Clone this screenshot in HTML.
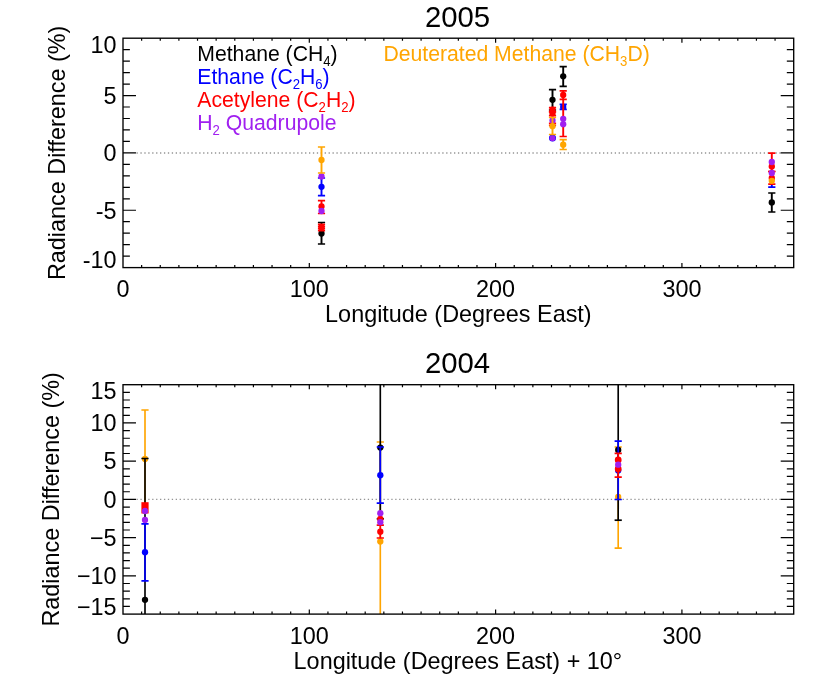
<!DOCTYPE html>
<html><head><meta charset="utf-8"><title>Radiance Difference</title>
<style>html,body{margin:0;padding:0;background:#fff}svg{display:block;will-change:transform;opacity:0.999}text{font-family:"Liberation Sans",sans-serif;}</style></head><body>
<svg width="830" height="692" viewBox="0 0 830 692">
<rect width="830" height="692" fill="#fff"/>
<line x1="136.5" y1="152.90" x2="780.7" y2="152.90" stroke="#949494" stroke-width="1.5" stroke-dasharray="1.3 2.62"/>
<clipPath id="c1"><rect x="123.0" y="38.2" width="670.70" height="229.40"/></clipPath>
<g clip-path="url(#c1)">
<path d="M321.5 222.5V244" stroke="#000" stroke-width="1.9" fill="none"/><path d="M317.90 222.5h7.2M317.90 244h7.2" stroke="#000" stroke-width="1.7" fill="none"/>
<circle cx="321.5" cy="233.5" r="3.15" fill="#000"/>
<path d="M321.5 178V195.6" stroke="#0000ff" stroke-width="1.9" fill="none"/><path d="M317.90 178h7.2M317.90 195.6h7.2" stroke="#0000ff" stroke-width="1.7" fill="none"/>
<circle cx="321.5" cy="186.8" r="3.15" fill="#0000ff"/>
<path d="M321.5 200.7V213.5" stroke="#ff0000" stroke-width="1.9" fill="none"/><path d="M317.90 200.7h7.2M317.90 213.5h7.2" stroke="#ff0000" stroke-width="1.7" fill="none"/>
<circle cx="321.5" cy="206.5" r="3.15" fill="#ff0000"/>
<path d="M321.5 224.3V230.6" stroke="#ff0000" stroke-width="1.9" fill="none"/><path d="M317.90 224.3h7.2M317.90 230.6h7.2" stroke="#ff0000" stroke-width="1.7" fill="none"/>
<path d="M321.5 226.4V228.6" stroke="#ff0000" stroke-width="1.9" fill="none"/><path d="M317.90 226.4h7.2M317.90 228.6h7.2" stroke="#ff0000" stroke-width="1.7" fill="none"/>
<circle cx="321.5" cy="227.5" r="3.15" fill="#ff0000"/>
<circle cx="321.5" cy="211" r="3.15" fill="#a020f0"/>
<circle cx="321.5" cy="176.5" r="3.15" fill="#a020f0"/>
<path d="M321.5 147V173" stroke="#ffa500" stroke-width="1.9" fill="none"/><path d="M317.90 147h7.2M317.90 173h7.2" stroke="#ffa500" stroke-width="1.7" fill="none"/>
<circle cx="321.5" cy="160" r="3.15" fill="#ffa500"/>
<path d="M552.5 89.7V110" stroke="#000" stroke-width="1.9" fill="none"/><path d="M548.90 89.7h7.2M548.90 110h7.2" stroke="#000" stroke-width="1.7" fill="none"/>
<circle cx="552.5" cy="99.8" r="3.15" fill="#000"/>
<circle cx="552.5" cy="138" r="3.5" fill="#0000ff"/>
<path d="M552.5 107.7V111.6" stroke="#ff0000" stroke-width="1.9" fill="none"/><path d="M548.90 107.7h7.2M548.90 111.6h7.2" stroke="#ff0000" stroke-width="1.7" fill="none"/>
<circle cx="552.5" cy="109.6" r="3.15" fill="#ff0000"/>
<path d="M552.5 112V115.6" stroke="#ff0000" stroke-width="1.9" fill="none"/><path d="M548.90 112h7.2M548.90 115.6h7.2" stroke="#ff0000" stroke-width="1.7" fill="none"/>
<circle cx="552.5" cy="113.6" r="3.15" fill="#ff0000"/>
<path d="M552.5 123.4V125.5" stroke="#ff0000" stroke-width="1.9" fill="none"/><path d="M548.90 123.4h7.2M548.90 125.5h7.2" stroke="#ff0000" stroke-width="1.7" fill="none"/>
<circle cx="552.5" cy="120.5" r="3.15" fill="#a020f0"/>
<circle cx="552.5" cy="138.2" r="3.0" fill="#a020f0"/>
<path d="M552.5 117.5V134.5" stroke="#ffa500" stroke-width="1.9" fill="none"/><path d="M548.90 117.5h7.2M548.90 134.5h7.2" stroke="#ffa500" stroke-width="1.7" fill="none"/>
<circle cx="552.5" cy="126.2" r="3.15" fill="#ffa500"/>
<path d="M563.2 66.7V86.3" stroke="#000" stroke-width="1.9" fill="none"/><path d="M559.60 66.7h7.2M559.60 86.3h7.2" stroke="#000" stroke-width="1.7" fill="none"/>
<circle cx="563.2" cy="76.3" r="3.15" fill="#000"/>
<path d="M563.2 104.4V109.4" stroke="#0000ff" stroke-width="1.9" fill="none"/><path d="M559.60 104.4h7.2M559.60 109.4h7.2" stroke="#0000ff" stroke-width="1.7" fill="none"/>
<circle cx="563.2" cy="106.9" r="3.15" fill="#0000ff"/>
<path d="M563.2 90.8V99.4" stroke="#ff0000" stroke-width="1.9" fill="none"/><path d="M559.60 90.8h7.2M559.60 99.4h7.2" stroke="#ff0000" stroke-width="1.7" fill="none"/>
<circle cx="563.2" cy="95" r="3.15" fill="#ff0000"/>
<path d="M563.2 99V136.5" stroke="#ff0000" stroke-width="1.9" fill="none"/><path d="M559.60 136.5h7.2" stroke="#ff0000" stroke-width="1.7" fill="none"/>
<circle cx="563.2" cy="118.8" r="3.15" fill="#a020f0"/>
<circle cx="563.2" cy="124.2" r="3.15" fill="#a020f0"/>
<path d="M563.2 139.6V149.5" stroke="#ffa500" stroke-width="1.9" fill="none"/><path d="M559.60 139.6h7.2M559.60 149.5h7.2" stroke="#ffa500" stroke-width="1.7" fill="none"/>
<circle cx="563.2" cy="144.7" r="3.15" fill="#ffa500"/>
<path d="M771.8 193V212" stroke="#000" stroke-width="1.9" fill="none"/><path d="M768.20 193h7.2M768.20 212h7.2" stroke="#000" stroke-width="1.7" fill="none"/>
<circle cx="771.8" cy="202.4" r="3.15" fill="#000"/>
<path d="M771.8 176V187.2" stroke="#0000ff" stroke-width="1.9" fill="none"/><path d="M768.20 187.2h7.2" stroke="#0000ff" stroke-width="1.7" fill="none"/>
<path d="M771.8 153.2V171.5" stroke="#ff0000" stroke-width="1.9" fill="none"/><path d="M768.20 153.2h7.2M768.20 171.5h7.2" stroke="#ff0000" stroke-width="1.7" fill="none"/>
<circle cx="771.8" cy="166.5" r="3.15" fill="#ff0000"/>
<path d="M771.8 171.5V184.2" stroke="#ff0000" stroke-width="1.9" fill="none"/><path d="M768.20 171.5h7.2M768.20 184.2h7.2" stroke="#ff0000" stroke-width="1.7" fill="none"/>
<circle cx="771.8" cy="178" r="3.15" fill="#ff0000"/>
<circle cx="771.8" cy="162" r="3.15" fill="#a020f0"/>
<circle cx="771.8" cy="173" r="3.15" fill="#a020f0"/>
<circle cx="771.8" cy="180.8" r="3.15" fill="#ffa500"/>
</g>
<path d="M141.63 267.6v-2.48M141.63 38.2v2.48M160.26 267.6v-2.48M160.26 38.2v2.48M178.89 267.6v-2.48M178.89 38.2v2.48M197.52 267.6v-2.48M197.52 38.2v2.48M216.15 267.6v-2.48M216.15 38.2v2.48M234.78 267.6v-2.48M234.78 38.2v2.48M253.41 267.6v-2.48M253.41 38.2v2.48M272.04 267.6v-2.48M272.04 38.2v2.48M290.68 267.6v-2.48M290.68 38.2v2.48M309.31 267.6v-4.67M309.31 38.2v4.67M327.94 267.6v-2.48M327.94 38.2v2.48M346.57 267.6v-2.48M346.57 38.2v2.48M365.20 267.6v-2.48M365.20 38.2v2.48M383.83 267.6v-2.48M383.83 38.2v2.48M402.46 267.6v-2.48M402.46 38.2v2.48M421.09 267.6v-2.48M421.09 38.2v2.48M439.72 267.6v-2.48M439.72 38.2v2.48M458.35 267.6v-2.48M458.35 38.2v2.48M476.98 267.6v-2.48M476.98 38.2v2.48M495.61 267.6v-4.67M495.61 38.2v4.67M514.24 267.6v-2.48M514.24 38.2v2.48M532.87 267.6v-2.48M532.87 38.2v2.48M551.50 267.6v-2.48M551.50 38.2v2.48M570.13 267.6v-2.48M570.13 38.2v2.48M588.76 267.6v-2.48M588.76 38.2v2.48M607.39 267.6v-2.48M607.39 38.2v2.48M626.02 267.6v-2.48M626.02 38.2v2.48M644.66 267.6v-2.48M644.66 38.2v2.48M663.29 267.6v-2.48M663.29 38.2v2.48M681.92 267.6v-4.67M681.92 38.2v4.67M700.55 267.6v-2.48M700.55 38.2v2.48M719.18 267.6v-2.48M719.18 38.2v2.48M737.81 267.6v-2.48M737.81 38.2v2.48M756.44 267.6v-2.48M756.44 38.2v2.48M775.07 267.6v-2.48M775.07 38.2v2.48M123.0 256.13h6.88M793.7 256.13h-6.88M123.0 244.66h6.88M793.7 244.66h-6.88M123.0 233.19h6.88M793.7 233.19h-6.88M123.0 221.72h6.88M793.7 221.72h-6.88M123.0 210.25h12.98M793.7 210.25h-12.98M123.0 198.78h6.88M793.7 198.78h-6.88M123.0 187.31h6.88M793.7 187.31h-6.88M123.0 175.84h6.88M793.7 175.84h-6.88M123.0 164.37h6.88M793.7 164.37h-6.88M123.0 152.90h12.98M793.7 152.90h-12.98M123.0 141.43h6.88M793.7 141.43h-6.88M123.0 129.96h6.88M793.7 129.96h-6.88M123.0 118.49h6.88M793.7 118.49h-6.88M123.0 107.02h6.88M793.7 107.02h-6.88M123.0 95.55h12.98M793.7 95.55h-12.98M123.0 84.08h6.88M793.7 84.08h-6.88M123.0 72.61h6.88M793.7 72.61h-6.88M123.0 61.14h6.88M793.7 61.14h-6.88M123.0 49.67h6.88M793.7 49.67h-6.88" stroke="#000" stroke-width="1.2" fill="none"/>
<rect x="123.0" y="38.2" width="670.70" height="229.40" fill="none" stroke="#000" stroke-width="1.35"/>
<line x1="136.5" y1="499.40" x2="780.7" y2="499.40" stroke="#949494" stroke-width="1.1" stroke-dasharray="1.3 2.62"/>
<clipPath id="c2"><rect x="123.0" y="384.7" width="670.70" height="229.40"/></clipPath>
<g clip-path="url(#c2)">
<path d="M145.0 410V505" stroke="#ffa500" stroke-width="1.65" fill="none"/><path d="M141.40 410h7.2" stroke="#ffa500" stroke-width="1.7" fill="none"/>
<circle cx="145.0" cy="459" r="3.15" fill="#ffa500"/>
<path d="M145.0 458.5V640" stroke="#000" stroke-width="1.65" fill="none"/><path d="M141.40 458.5h7.2" stroke="#000" stroke-width="1.7" fill="none"/>
<circle cx="145.0" cy="599.8" r="3.15" fill="#000"/>
<path d="M145.0 523.8V580.8" stroke="#0000ff" stroke-width="1.65" fill="none"/><path d="M141.40 523.8h7.2M141.40 580.8h7.2" stroke="#0000ff" stroke-width="1.7" fill="none"/>
<circle cx="145.0" cy="552.2" r="3.15" fill="#0000ff"/>
<rect x="141.4" y="502.2" width="7.2" height="11.3" fill="#ff0000"/>
<circle cx="145.0" cy="511" r="3.15" fill="#a020f0"/>
<circle cx="145.0" cy="520" r="3.15" fill="#a020f0"/>
<path d="M380.3 442V640" stroke="#ffa500" stroke-width="1.65" fill="none"/><path d="M376.70 442h7.2" stroke="#ffa500" stroke-width="1.7" fill="none"/>
<circle cx="380.3" cy="541.5" r="3.15" fill="#ffa500"/>
<path d="M380.3 370V518.8" stroke="#000" stroke-width="1.65" fill="none"/><path d="M376.70 518.8h7.2" stroke="#000" stroke-width="1.7" fill="none"/>
<circle cx="380.3" cy="447.6" r="3.15" fill="#000"/>
<path d="M380.3 447V503.2" stroke="#0000ff" stroke-width="1.65" fill="none"/><path d="M376.70 447h7.2M376.70 503.2h7.2" stroke="#0000ff" stroke-width="1.7" fill="none"/>
<circle cx="380.3" cy="475.2" r="3.15" fill="#0000ff"/>
<circle cx="380.3" cy="519" r="3.15" fill="#ff0000"/>
<path d="M380.3 525.2V538" stroke="#ff0000" stroke-width="1.65" fill="none"/><path d="M376.70 525.2h7.2M376.70 538h7.2" stroke="#ff0000" stroke-width="1.7" fill="none"/>
<circle cx="380.3" cy="531.7" r="3.15" fill="#ff0000"/>
<circle cx="380.3" cy="513.2" r="3.15" fill="#a020f0"/>
<circle cx="380.3" cy="522.2" r="3.15" fill="#a020f0"/>
<path d="M618.2 447V548.2" stroke="#ffa500" stroke-width="1.65" fill="none"/><path d="M614.60 447h7.2M614.60 548.2h7.2" stroke="#ffa500" stroke-width="1.7" fill="none"/>
<circle cx="618.2" cy="497" r="3.15" fill="#ffa500"/>
<path d="M618.2 370V520.2" stroke="#000" stroke-width="1.65" fill="none"/><path d="M614.60 520.2h7.2" stroke="#000" stroke-width="1.7" fill="none"/>
<circle cx="618.2" cy="450" r="3.15" fill="#000"/>
<path d="M618.2 441.2V499.5" stroke="#0000ff" stroke-width="1.65" fill="none"/><path d="M614.60 441.2h7.2M614.60 499.5h7.2" stroke="#0000ff" stroke-width="1.7" fill="none"/>
<circle cx="618.2" cy="470.5" r="3.15" fill="#0000ff"/>
<path d="M618.2 453.3V477.2" stroke="#ff0000" stroke-width="1.65" fill="none"/><path d="M614.60 453.3h7.2M614.60 477.2h7.2" stroke="#ff0000" stroke-width="1.7" fill="none"/>
<circle cx="618.2" cy="460" r="3.4" fill="#ff0000"/>
<circle cx="618.2" cy="469" r="3.4" fill="#ff0000"/>
<circle cx="618.2" cy="464.7" r="3.15" fill="#a020f0"/>
</g>
<path d="M141.63 614.1v-2.48M141.63 384.7v2.48M160.26 614.1v-2.48M160.26 384.7v2.48M178.89 614.1v-2.48M178.89 384.7v2.48M197.52 614.1v-2.48M197.52 384.7v2.48M216.15 614.1v-2.48M216.15 384.7v2.48M234.78 614.1v-2.48M234.78 384.7v2.48M253.41 614.1v-2.48M253.41 384.7v2.48M272.04 614.1v-2.48M272.04 384.7v2.48M290.68 614.1v-2.48M290.68 384.7v2.48M309.31 614.1v-4.67M309.31 384.7v4.67M327.94 614.1v-2.48M327.94 384.7v2.48M346.57 614.1v-2.48M346.57 384.7v2.48M365.20 614.1v-2.48M365.20 384.7v2.48M383.83 614.1v-2.48M383.83 384.7v2.48M402.46 614.1v-2.48M402.46 384.7v2.48M421.09 614.1v-2.48M421.09 384.7v2.48M439.72 614.1v-2.48M439.72 384.7v2.48M458.35 614.1v-2.48M458.35 384.7v2.48M476.98 614.1v-2.48M476.98 384.7v2.48M495.61 614.1v-4.67M495.61 384.7v4.67M514.24 614.1v-2.48M514.24 384.7v2.48M532.87 614.1v-2.48M532.87 384.7v2.48M551.50 614.1v-2.48M551.50 384.7v2.48M570.13 614.1v-2.48M570.13 384.7v2.48M588.76 614.1v-2.48M588.76 384.7v2.48M607.39 614.1v-2.48M607.39 384.7v2.48M626.02 614.1v-2.48M626.02 384.7v2.48M644.66 614.1v-2.48M644.66 384.7v2.48M663.29 614.1v-2.48M663.29 384.7v2.48M681.92 614.1v-4.67M681.92 384.7v4.67M700.55 614.1v-2.48M700.55 384.7v2.48M719.18 614.1v-2.48M719.18 384.7v2.48M737.81 614.1v-2.48M737.81 384.7v2.48M756.44 614.1v-2.48M756.44 384.7v2.48M775.07 614.1v-2.48M775.07 384.7v2.48M123.0 606.45h6.88M793.7 606.45h-6.88M123.0 598.81h6.88M793.7 598.81h-6.88M123.0 591.16h6.88M793.7 591.16h-6.88M123.0 583.51h6.88M793.7 583.51h-6.88M123.0 575.87h12.98M793.7 575.87h-12.98M123.0 568.22h6.88M793.7 568.22h-6.88M123.0 560.57h6.88M793.7 560.57h-6.88M123.0 552.93h6.88M793.7 552.93h-6.88M123.0 545.28h6.88M793.7 545.28h-6.88M123.0 537.63h12.98M793.7 537.63h-12.98M123.0 529.99h6.88M793.7 529.99h-6.88M123.0 522.34h6.88M793.7 522.34h-6.88M123.0 514.69h6.88M793.7 514.69h-6.88M123.0 507.05h6.88M793.7 507.05h-6.88M123.0 499.40h12.98M793.7 499.40h-12.98M123.0 491.75h6.88M793.7 491.75h-6.88M123.0 484.11h6.88M793.7 484.11h-6.88M123.0 476.46h6.88M793.7 476.46h-6.88M123.0 468.81h6.88M793.7 468.81h-6.88M123.0 461.17h12.98M793.7 461.17h-12.98M123.0 453.52h6.88M793.7 453.52h-6.88M123.0 445.87h6.88M793.7 445.87h-6.88M123.0 438.23h6.88M793.7 438.23h-6.88M123.0 430.58h6.88M793.7 430.58h-6.88M123.0 422.93h12.98M793.7 422.93h-12.98M123.0 415.29h6.88M793.7 415.29h-6.88M123.0 407.64h6.88M793.7 407.64h-6.88M123.0 399.99h6.88M793.7 399.99h-6.88M123.0 392.35h6.88M793.7 392.35h-6.88" stroke="#000" stroke-width="1.2" fill="none"/>
<rect x="123.0" y="384.7" width="670.70" height="229.40" fill="none" stroke="#000" stroke-width="1.35"/>
<text x="457.55" y="26.6" font-size="29.3" text-anchor="middle" fill="#000">2005</text>
<text x="457.55" y="372.8" font-size="29.3" text-anchor="middle" fill="#000">2004</text>
<text x="123.0" y="297.0" font-size="23.4" text-anchor="middle" fill="#000">0</text>
<text x="123.0" y="643.6" font-size="23.4" text-anchor="middle" fill="#000">0</text>
<text x="309.3" y="297.0" font-size="23.4" text-anchor="middle" fill="#000">100</text>
<text x="309.3" y="643.6" font-size="23.4" text-anchor="middle" fill="#000">100</text>
<text x="495.6" y="297.0" font-size="23.4" text-anchor="middle" fill="#000">200</text>
<text x="495.6" y="643.6" font-size="23.4" text-anchor="middle" fill="#000">200</text>
<text x="681.9" y="297.0" font-size="23.4" text-anchor="middle" fill="#000">300</text>
<text x="681.9" y="643.6" font-size="23.4" text-anchor="middle" fill="#000">300</text>
<text x="458.4" y="322.2" font-size="23.4" text-anchor="middle" fill="#000">Longitude (Degrees East)</text>
<text x="457.9" y="668.8" font-size="23.4" text-anchor="middle" fill="#000">Longitude (Degrees East) + 10°</text>
<text x="116.6" y="53.2" font-size="23.4" text-anchor="end" fill="#000">10</text>
<text x="116.6" y="104.0" font-size="23.4" text-anchor="end" fill="#000">5</text>
<text x="116.6" y="161.2" font-size="23.4" text-anchor="end" fill="#000">0</text>
<text x="116.6" y="218.5" font-size="23.4" text-anchor="end" fill="#000">-5</text>
<text x="116.6" y="268.2" font-size="23.4" text-anchor="end" fill="#000">-10</text>
<text x="116.6" y="399.2" font-size="23.4" text-anchor="end" fill="#000">15</text>
<text x="116.6" y="431.2" font-size="23.4" text-anchor="end" fill="#000">10</text>
<text x="116.6" y="469.2" font-size="23.4" text-anchor="end" fill="#000">5</text>
<text x="116.6" y="507.8" font-size="23.4" text-anchor="end" fill="#000">0</text>
<text x="116.6" y="546.0" font-size="23.4" text-anchor="end" fill="#000">−5</text>
<text x="116.6" y="584.0" font-size="23.4" text-anchor="end" fill="#000">−10</text>
<text x="116.6" y="614.5" font-size="23.4" text-anchor="end" fill="#000">−15</text>
<text transform="translate(64.8 152.9) rotate(-90)" font-size="23.4" text-anchor="middle">Radiance Difference (%)</text>
<text transform="translate(58.8 499.4) rotate(-90)" font-size="23.4" text-anchor="middle">Radiance Difference (%)</text>
<text transform="translate(197.3 61) scale(1 1.05)" font-size="21.2" fill="#000">Methane (CH<tspan font-size="13.14" dy="4.66">4</tspan><tspan dy="-4.66">)</tspan></text>
<text transform="translate(197.3 84) scale(1 1.05)" font-size="21.2" fill="#0000ff">Ethane (C<tspan font-size="13.14" dy="4.66">2</tspan><tspan dy="-4.66">H</tspan><tspan font-size="13.14" dy="4.66">6</tspan><tspan dy="-4.66">)</tspan></text>
<text transform="translate(197.3 107) scale(1 1.05)" font-size="21.2" fill="#ff0000">Acetylene (C<tspan font-size="13.14" dy="4.66">2</tspan><tspan dy="-4.66">H</tspan><tspan font-size="13.14" dy="4.66">2</tspan><tspan dy="-4.66">)</tspan></text>
<text transform="translate(197.3 130) scale(1 1.05)" font-size="21.2" fill="#a020f0">H<tspan font-size="13.14" dy="4.66">2</tspan><tspan dy="-4.66"> Quadrupole</tspan></text>
<text transform="translate(383.4 61) scale(1 1.05)" font-size="21.2" fill="#ffa500">Deuterated Methane (CH<tspan font-size="13.14" dy="4.66">3</tspan><tspan dy="-4.66">D)</tspan></text>
</svg></body></html>
